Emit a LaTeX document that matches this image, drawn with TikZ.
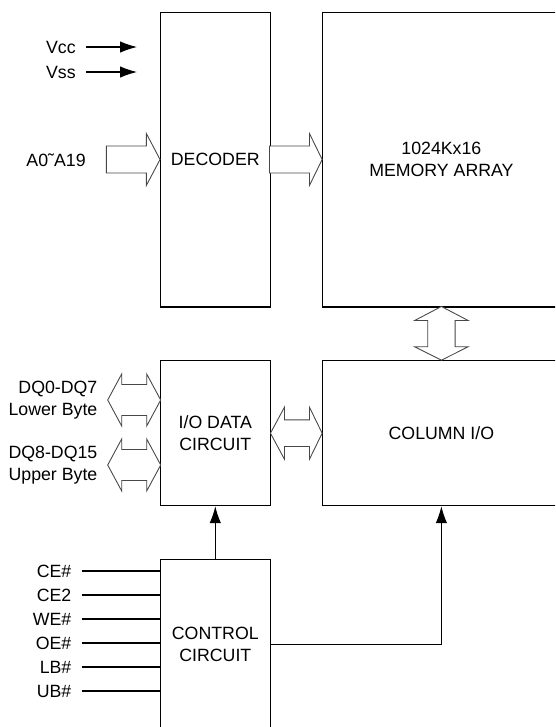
\documentclass[tikz,border=0pt]{standalone}
\usepackage{fontspec}
\setmainfont{Liberation Sans}
\usetikzlibrary{arrows.meta,calc,positioning}
\tikzset{
  blk/.style={rectangle,draw=black,line width=.6pt,align=center,inner sep=0pt,font=\fontsize{10.1}{12.2}\selectfont},
  pin/.style={align=right,inner xsep=.2cm,inner ysep=0pt,font=\fontsize{10.1}{12.2}\selectfont},
  fat/.style={draw=black!72,line width=.5pt,fill=white,line join=miter},
  wire/.style={draw=black,line width=.6pt},
  sig/.style={wire,-{Latex[length=3.4mm,width=2.3mm]}},
}

\begin{document}
\begin{tikzpicture}[x=.02cm,y=-.02cm]
  \clip (0,0) rectangle (555,727);
  \node[blk,minimum width=2.19cm,minimum height=5.9cm] (dec) at (215.3,159.5) {DECODER};
  \node[blk,minimum width=4.75cm,minimum height=5.9cm] (mem) at (441.4,159.5) {1024Kx16\\MEMORY ARRAY};
  \node[blk,minimum width=2.19cm,minimum height=2.9cm] (iod) at (215.3,433.2) {I/O DATA\\CIRCUIT};
  \node[blk,minimum width=4.75cm,minimum height=2.9cm] (col) at (441.4,433.2) {COLUMN I/O};
  \node[blk,minimum width=2.19cm,minimum height=3.4cm] (ctrl) at (215.3,644.3) {CONTROL\\CIRCUIT};
  % supply pins
  \node[pin,anchor=east] (vcc) at (86,47) {Vcc};
  \node[pin,anchor=east] (vss) at (86,72) {Vss};
  \draw[sig] (vcc.east) -- ++(51,0);
  \draw[sig] (vss.east) -- ++(51,0);
  % address bus
  \node[pin,anchor=east] (addr) at (96,160) {A0˜A19};
  \draw[fat] (dec.west) -- ++(-13.7,-26) -- ++(0,12.5) -- ++(-40,0) -- ++(0,27) -- ++(40,0) -- ++(0,12.5) -- cycle;
  \draw[fat] (mem.west) -- ++(-12.7,-26) -- ++(0,12.5) -- ++(-40,0) -- ++(0,27) -- ++(40,0) -- ++(0,12.5) -- cycle;
  % data buses
  \node[pin,anchor=east] (dql) at (107.7,400) {DQ0-DQ7\\Lower Byte};
  \node[pin,anchor=east] (dqu) at (107.7,465) {DQ8-DQ15\\Upper Byte};
  \foreach \q in {dql,dqu}
    \draw[fat] (\q.east) -- ++(14,-26) -- ++(0,10.5) -- ++(25,0) -- ++(0,-10.5) -- ++(14,26)
      -- ++(-14,26) -- ++(0,-10.5) -- ++(-25,0) -- ++(0,10.5) -- cycle;
  \draw[fat] (col.west) -- ++(-12.7,-26) -- ++(0,12.7) -- ++(-25,0) -- ++(0,-12.7) -- ++(-14,26)
    -- ++(14,26) -- ++(0,-12.7) -- ++(25,0) -- ++(0,12.7) -- cycle;
  \draw[fat] (col.north) -- ++(-26.7,-13.4) -- ++(13,0) -- ++(0,-26.3) -- ++(-13,0) -- ++(26.7,-14)
    -- ++(26.7,14) -- ++(-13,0) -- ++(0,26.3) -- ++(13,0) -- cycle;
  % control pins
  \foreach \name [count=\i from 0] in {CE\#,CE2,WE\#,OE\#,LB\#,UB\#}{
    \node[pin,anchor=east] (s\i) at (81.7,{571+24*\i}) {\name};
    \draw[wire] (s\i.east) -- (s\i.east -| ctrl.west);
  }
  \draw[sig] (ctrl.north) -- (iod.south);
  \draw[sig] (ctrl.east) -| (col.south);
\end{tikzpicture}
\end{document}
